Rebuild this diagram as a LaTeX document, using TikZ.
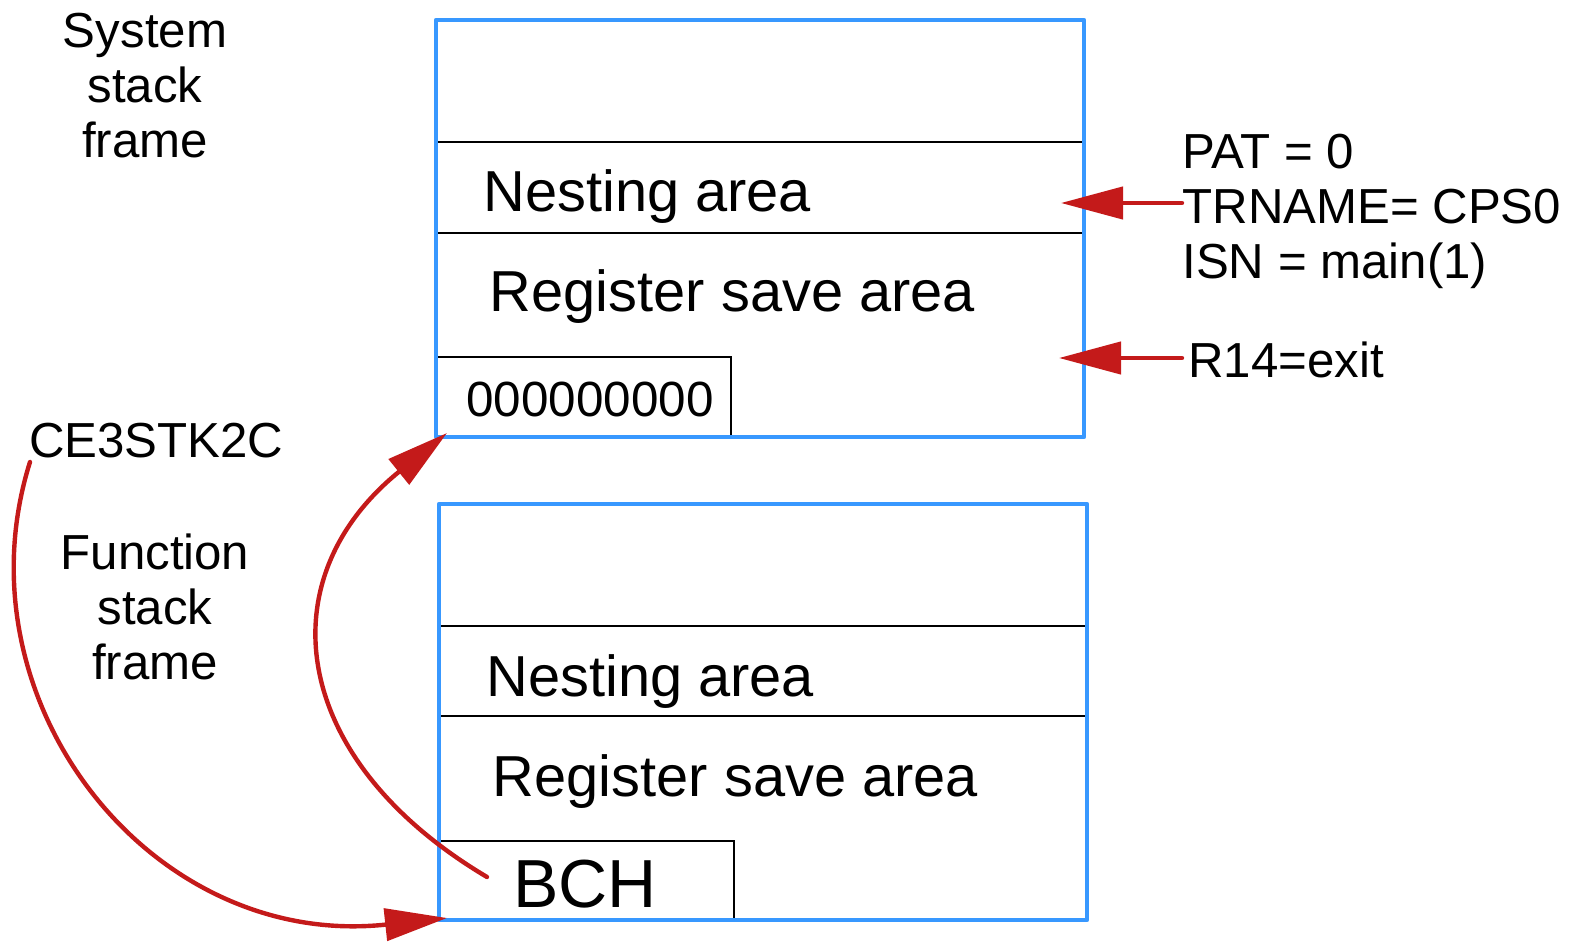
\documentclass[tikz,border=0pt]{standalone}
\usepackage{fontspec}
\setmainfont{Liberation Sans}
\usetikzlibrary{arrows.meta}
\definecolor{frameblue}{RGB}{56,152,255}
\definecolor{linkred}{RGB}{196,26,26}
\newcommand\labelfont{\fontsize{24.6pt}{27.5pt}\selectfont}
\newcommand\areafont{\fontsize{28.9pt}{32pt}\selectfont}
\newcommand\valuefont{\fontsize{24.7pt}{28pt}\selectfont}
\newcommand\bchfont{\fontsize{34pt}{38pt}\selectfont}

\begin{document}
\begin{tikzpicture}[x=0.5pt,y=-0.5pt,
  frameedge/.style={draw=frameblue,line width=2.2pt,line join=round},
  divider/.style={draw=black,line width=1.1pt},
  slot/.style={draw=black,line width=0.8pt},
  pointer/.style={draw=linkred,line width=2.2pt,line cap=round,
                  -{Triangle[length=31pt,width=16pt]}},
  txt/.style={inner sep=0pt,anchor=base west},
  caption/.style={inner sep=0pt,anchor=base,align=center,font=\labelfont},
]
\useasboundingbox (0,0) rectangle (1572,946);

% ---- system stack frame ----
\draw[divider] (436,142) -- (1084,142);
\draw[divider] (436,233) -- (1084,233);
\draw[slot] (436,357) -- (731,357) -- (731,437);
\draw[frameedge] (436,20) rectangle (1084,437);
\node[txt,font=\areafont] (sysnest) at (483,212) {Nesting area};
\node[txt,font=\areafont] (sysreg) at (489.5,312) {Register save area};
\node[txt,font=\valuefont] (sysval) at (466,416) {000000000};

% ---- function stack frame ----
\draw[divider] (439,626) -- (1087,626);
\draw[divider] (439,716) -- (1087,716);
\draw[slot] (439,841) -- (734,841) -- (734,920);
\draw[frameedge] (439,504) rectangle (1087,920);
\node[txt,font=\areafont] (fnnest) at (486,696) {Nesting area};
\node[txt,font=\areafont] (fnreg) at (492.5,796) {Register save area};
\node[txt,font=\bchfont] (bch) at (513,907) {BCH};

% ---- captions (base anchor sits on the last line) ----
\node[caption] (syscap) at (145,158) {System\\stack\\frame};
\node[caption] (fncap) at (155,679) {Function\\stack\\frame};
\node[txt,font=\labelfont] (ce) at (28.6,457) {CE3STK2C};
\node[txt,font=\labelfont,align=left] (info) at (1182,279)
  {PAT = 0\\TRNAME= CPS0\\ISN = main(1)};
\node[txt,font=\labelfont] (r14) at (1188,377) {R14=exit};

% ---- pointers ----
\coordinate (nesttip) at (1061,203);
\coordinate (r14tip) at (1059,358);
\coordinate (sysbottom) at (447,433);
\coordinate (fnbottom) at (447,918);
\coordinate (cestart) at (30,462);
\coordinate (bchstart) at (487,877);

\draw[pointer] (info.west |- nesttip) -- (nesttip);
\draw[pointer,shorten <=3pt] (r14.west |- r14tip) -- (r14tip);
\draw[pointer] (cestart) .. controls (-45,700) and (150,950) .. (fnbottom);
\draw[pointer] (bchstart) .. controls (290,760) and (265,580) .. (sysbottom);
\end{tikzpicture}
\end{document}
